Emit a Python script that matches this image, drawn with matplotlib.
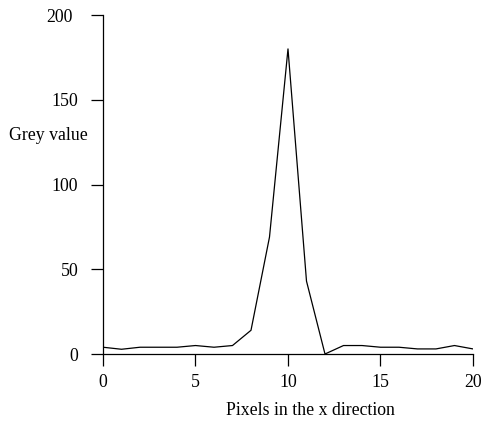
import matplotlib
matplotlib.use('Agg')
import matplotlib.pyplot as plt
from matplotlib.transforms import ScaledTranslation

pixels = list(range(0, 21))
grey = [4, 2.8, 4, 4, 4, 5, 4, 5, 14, 69, 180, 43, 0, 5, 5, 4, 4, 3, 3, 5, 3]

plt.rcParams['font.family'] = ['Liberation Serif', 'DejaVu Serif']
plt.rcParams['font.size'] = 12.8

fig = plt.figure(figsize=(4.82, 4.23), dpi=100)
ax = fig.add_axes([0.2137, 0.1631, 0.7676, 0.8014])
ax.plot(pixels, grey, color='black', linewidth=0.9)

ax.set_xlim(0, 20)
ax.set_ylim(0, 200)
ax.set_xticks([0, 5, 10, 15, 20])
ax.set_yticks([0, 50, 100, 150, 200])
ax.spines['top'].set_visible(False)
ax.spines['right'].set_visible(False)
ax.spines['left'].set_linewidth(0.9)
ax.spines['bottom'].set_linewidth(0.9)
ax.tick_params(direction='out', length=8.6, width=0.9)
ax.tick_params(axis='x', pad=6)
ax.tick_params(axis='y', pad=9.2)

# the top label sits a little further left in the original
top = ax.get_yticklabels()[-1]
top.set_transform(top.get_transform() + ScaledTranslation(-0.06, 0, fig.dpi_scale_trans))

ax.set_xlabel('Pixels in the x direction')
ax.xaxis.set_label_coords(0.562, -0.143)
ax.set_ylabel('Grey value', rotation=0, ha='right', va='center')
ax.yaxis.set_label_coords(-0.04, 0.646)

fig.savefig('out.png', dpi=100)
